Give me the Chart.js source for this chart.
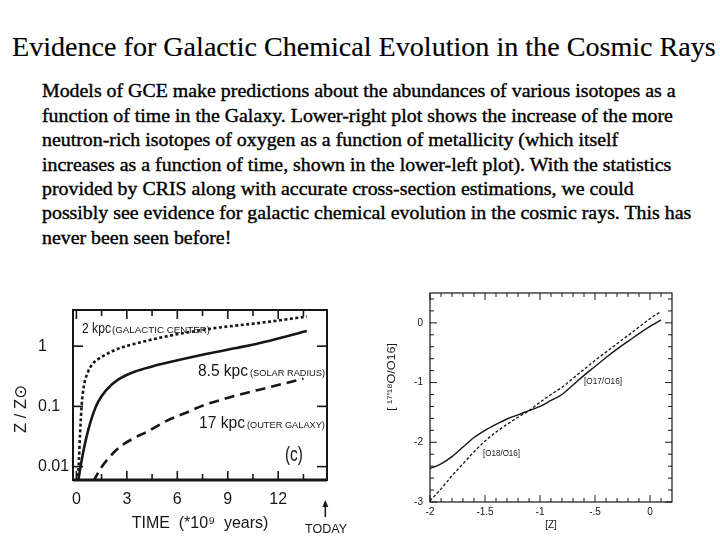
<!DOCTYPE html>
<html><head><meta charset="utf-8">
<script src="https://cdn.jsdelivr.net/npm/chart.js@4.4.1/dist/chart.umd.min.js"></script>
<style>
html,body{margin:0;padding:0;background:#fff;width:720px;height:540px;overflow:hidden;}
#title{position:absolute;left:12px;top:0;white-space:nowrap;font-family:"Liberation Serif","Times New Roman",serif;color:#000;-webkit-text-stroke:0.15px #000;}
#para{position:absolute;left:42px;top:0;font-family:"Liberation Serif","Times New Roman",serif;color:#000;white-space:pre;-webkit-text-stroke:0.4px #000;}
canvas{position:absolute;}
#c1{left:0;top:290px;}
#c2{left:385px;top:270px;}
</style></head><body>
<div id="title"></div>
<div id="para"></div>
<canvas id="c1" width="360" height="250"></canvas>
<canvas id="c2" width="335" height="270"></canvas>
<script>
// ---------- text ----------
const titleText = "Evidence for Galactic Chemical Evolution in the Cosmic Rays";
const paraLines = [
  "Models of GCE make predictions about the abundances of various isotopes as a",
  "function of time in the Galaxy. Lower-right plot shows the increase of the more",
  "neutron-rich isotopes of oxygen as a function of metallicity (which itself",
  "increases as a function of time, shown in the lower-left plot). With the statistics",
  "provided by CRIS along with accurate cross-section estimations, we could",
  "possibly see evidence for galactic chemical evolution in the cosmic rays. This has",
  "never been seen before!"
];

// ---------- left plot data: metallicity vs time ----------
const t2kpc  = [0.08, 0.15, 0.22, 0.32, 0.45, 0.65, 0.95, 1.5, 2.5, 3.5, 5.5, 8, 11, 13.7];
const z2kpc  = [0.0056, 0.0126, 0.035, 0.11, 0.22, 0.35, 0.50, 0.66, 0.91, 1.10, 1.48, 1.95, 2.45, 3.1];
const t85kpc = [0.1, 0.25, 0.45, 0.7, 1.0, 1.3, 1.8, 2.5, 3.5, 4.5, 5.5, 7.5, 9.5, 11.5, 13.7];
const z85kpc = [0.0056, 0.010, 0.020, 0.040, 0.076, 0.12, 0.19, 0.28, 0.38, 0.46, 0.54, 0.72, 0.93, 1.23, 1.78];
const t17kpc = [1.0, 1.4, 1.85, 2.6, 3.4, 4.2, 5.4, 6.4, 7.6, 9.5, 11.5, 13.5];
const z17kpc = [0.0056, 0.0089, 0.0132, 0.0214, 0.0295, 0.038, 0.058, 0.076, 0.105, 0.151, 0.209, 0.288];
const leftXTicks = [0, 3, 6, 9, 12];
const leftXTickLabels = ["0", "3", "6", "9", "12"];
const leftXMinorTicks = [1.5, 4.5, 7.5, 10.5, 13.5];
const leftYTicks = [0.01, 0.1, 1];
const leftYTickLabels = ["0.01", "0.1", "1"];

// ---------- right plot data: oxygen isotope ratios vs [Z] ----------
const zMet = [-2, -1.9, -1.8, -1.7, -1.6, -1.5, -1.4, -1.3, -1.2, -1.1, -1.0, -0.9, -0.8, -0.7, -0.6, -0.5, -0.4, -0.3, -0.2, -0.1, 0, 0.1];
const o17o16 = [-2.44, -2.36, -2.24, -2.08, -1.92, -1.80, -1.70, -1.61, -1.54, -1.47, -1.40, -1.30, -1.20, -1.04, -0.88, -0.73, -0.58, -0.44, -0.31, -0.18, -0.06, 0.05];
const o18o16 = [-2.98, -2.78, -2.56, -2.36, -2.16, -1.98, -1.83, -1.70, -1.58, -1.47, -1.33, -1.20, -1.08, -0.93, -0.78, -0.63, -0.49, -0.35, -0.21, -0.07, 0.07, 0.19];
const rightXTicks = [-2, -1.5, -1, -0.5, 0];
const rightXTickLabels = ["-2", "-1.5", "-1", "-.5", "0"];
const rightXMinorTicks = [-1.9, -1.8, -1.7, -1.6, -1.4, -1.3, -1.2, -1.1, -0.9, -0.8, -0.7, -0.6, -0.4, -0.3, -0.2, -0.1, 0.1];
const rightYTicks = [0, -1, -2, -3];
const rightYTickLabels = ["0", "-1", "-2", "-3"];
const rightYMinorTicks = [0.4, 0.2, -0.2, -0.4, -0.6, -0.8, -1.2, -1.4, -1.6, -1.8, -2.2, -2.4, -2.6, -2.8];

// ---------- page text layout ----------
(function () {
  const m = document.createElement('canvas').getContext('2d');
  m.font = '100px "Liberation Serif"';
  const ts = 100 * 704 / m.measureText(titleText).width;
  const t = document.getElementById('title');
  t.textContent = titleText;
  t.style.fontSize = ts + 'px';
  t.style.lineHeight = ts + 'px';
  t.style.top = (57 - 0.8375 * ts) + 'px';
  const ps = 100 * 634 / m.measureText(paraLines[0]).width;
  const p = document.getElementById('para');
  const lh = 24.4;
  p.textContent = paraLines.join('\n');
  p.style.fontSize = ps + 'px';
  p.style.lineHeight = lh + 'px';
  p.style.top = (97.3 - ((lh - 1.107 * ps) / 2 + 0.891 * ps)) + 'px';
})();

const pts = (xs, ys) => xs.map((x, i) => ({x: x, y: ys[i]}));
const INK = '#161616';
const SANS = '"Liberation Sans", Arial, "DejaVu Sans", sans-serif';

function drawFit(ctx, s, x, y, font, w, align, rot, base) {
  ctx.save();
  ctx.font = font;
  ctx.fillStyle = INK;
  const mw = ctx.measureText(s).width;
  const sx = w ? w / mw : 1;
  ctx.translate(x, y);
  if (rot) ctx.rotate(rot);
  ctx.scale(sx, 1);
  ctx.textAlign = align || 'left';
  ctx.textBaseline = base || 'alphabetic';
  ctx.fillText(s, 0, 0);
  ctx.restore();
}

const frame = {
  id: 'frame',
  afterDatasetsDraw(chart, args, o) {
    const {ctx, chartArea: a, scales: {x, y}} = chart;
    ctx.save();
    ctx.strokeStyle = INK;
    ctx.lineWidth = o.box;
    ctx.strokeRect(a.left, a.top, a.right - a.left, a.bottom - a.top);
    if (o.bottom) {
      ctx.lineWidth = o.bottom;
      ctx.beginPath(); ctx.moveTo(a.left, a.bottom); ctx.lineTo(a.right, a.bottom); ctx.stroke();
    }
    ctx.lineWidth = o.tick;
    const seg = (x1, y1, x2, y2) => { ctx.beginPath(); ctx.moveTo(x1, y1); ctx.lineTo(x2, y2); ctx.stroke(); };
    o.xTicks.forEach(g => g.values.forEach(v => {
      const px = x.getPixelForValue(v);
      seg(px, a.bottom, px, a.bottom - g.len);
      seg(px, a.top, px, a.top + g.len);
    }));
    o.yTicks.forEach(g => g.values.forEach(v => {
      const py = y.getPixelForValue(v);
      seg(a.left, py, a.left + g.len, py);
      seg(a.right, py, a.right - g.len, py);
    }));
    ctx.restore();
  },
  afterDraw(chart, args, o) {
    const {ctx, chartArea: a, scales: {x, y}} = chart;
    (o.notes || []).forEach(n => {
      const px = n.xOff !== undefined ? a.left + n.xOff : x.getPixelForValue(n.x);
      const py = n.yOff !== undefined ? a.bottom + n.yOff : y.getPixelForValue(n.y);
      drawFit(ctx, n.text, px, py, n.font, n.w, n.align, n.rot, n.base);
    });
    (o.arrows || []).forEach(r => {
      const px = x.getPixelForValue(r.x);
      const y1 = a.bottom + r.from, y2 = a.bottom + r.to;
      ctx.save();
      ctx.strokeStyle = INK; ctx.fillStyle = INK; ctx.lineWidth = 1.5;
      ctx.beginPath(); ctx.moveTo(px, y1); ctx.lineTo(px, y2 + 4); ctx.stroke();
      ctx.beginPath(); ctx.moveTo(px, y2); ctx.lineTo(px - 3, y2 + 7); ctx.lineTo(px + 3, y2 + 7); ctx.closePath(); ctx.fill();
      ctx.restore();
    });
  }
};

Chart.defaults.font.family = SANS;
Chart.defaults.color = INK;

// ---------- left chart ----------
new Chart(document.getElementById('c1'), {
  type: 'line',
  data: {
    datasets: [
      {label: '2 kpc', data: pts(t2kpc, z2kpc), borderColor: INK, borderWidth: 2.6, borderDash: [3, 2.5], pointRadius: 0, cubicInterpolationMode: 'monotone'},
      {label: '8.5 kpc', data: pts(t85kpc, z85kpc), borderColor: INK, borderWidth: 2.6, pointRadius: 0, cubicInterpolationMode: 'monotone'},
      {label: '17 kpc', data: pts(t17kpc, z17kpc), borderColor: INK, borderWidth: 2.6, borderDash: [10, 6], pointRadius: 0, cubicInterpolationMode: 'monotone'}
    ]
  },
  options: {
    responsive: false, animation: false, devicePixelRatio: 1,
    layout: {padding: {left: 38, top: 20, right: 33, bottom: 0}},
    plugins: {
      legend: {display: false}, tooltip: {enabled: false},
      frame: {
        box: 2, bottom: 3, tick: 1.6,
        xTicks: [{values: leftXTicks, len: 9}, {values: leftXMinorTicks, len: 6}],
        yTicks: [{values: leftYTicks, len: 10}],
        notes: [
          {text: '2 kpc', x: 0.335, y: 1.65, font: '15px ' + SANS, w: 29},
          {text: '(GALACTIC CENTER)', x: 2.12, y: 1.65, font: '9.5px ' + SANS, w: 98},
          {text: '8.5 kpc', x: 7.23, y: 0.32, font: '16px ' + SANS, w: 50},
          {text: '(SOLAR RADIUS)', x: 10.32, y: 0.32, font: '9.5px ' + SANS, w: 75},
          {text: '17 kpc', x: 7.29, y: 0.0439, font: '16px ' + SANS, w: 46},
          {text: '(OUTER GALAXY)', x: 10.14, y: 0.0439, font: '9.5px ' + SANS, w: 78},
          {text: '(c)', x: 12.4, y: 0.01245, font: '20px ' + SANS, w: 18},
          {text: 'TODAY', x: 14.84, yOff: 53, font: '12px ' + SANS, w: 42, align: 'center'},
          {text: 'Z / Z\u2299', xOff: -51.5, y: 0.0906, font: '17px ' + SANS, w: 48, align: 'center', rot: -Math.PI / 2, base: 'middle'}
        ],
        arrows: [{x: 14.8, from: 37, to: 20}]
      }
    },
    scales: {
      x: {
        type: 'linear', min: -0.2, max: 14.9,
        afterBuildTicks: s => { s.ticks = leftXTicks.map(v => ({value: v})); },
        afterFit: s => { s.height = 60; },
        grid: {display: false, drawTicks: false}, border: {display: false},
        ticks: {autoSkip: false, maxRotation: 0, padding: 10, font: {size: 16}, callback: (v, i) => leftXTickLabels[i]},
        title: {display: true, text: 'TIME  (*10\u2079  years)', font: {size: 16}, padding: {top: 0, bottom: 7}}
      },
      y: {
        type: 'logarithmic', min: 0.006, max: 3.98,
        afterBuildTicks: s => { s.ticks = leftYTicks.map(v => ({value: v})); },
        afterFit: s => { s.width = 35; },
        grid: {display: false, drawTicks: false}, border: {display: false},
        ticks: {crossAlign: 'far', padding: 6, font: {size: 16}, callback: (v, i) => leftYTickLabels[i]}
      }
    }
  },
  plugins: [frame]
});

// ---------- right chart ----------
new Chart(document.getElementById('c2'), {
  type: 'line',
  data: {
    datasets: [
      {label: '[O17/O16]', data: pts(zMet, o17o16), borderColor: INK, borderWidth: 1.4, pointRadius: 0, cubicInterpolationMode: 'monotone'},
      {label: '[O18/O16]', data: pts(zMet, o18o16), borderColor: INK, borderWidth: 1.3, borderDash: [3, 2], pointRadius: 0, cubicInterpolationMode: 'monotone'}
    ]
  },
  options: {
    responsive: false, animation: false, devicePixelRatio: 1,
    layout: {padding: {left: 0, top: 23, right: 48, bottom: 0}},
    plugins: {
      legend: {display: false}, tooltip: {enabled: false},
      frame: {
        box: 1.2, tick: 1,
        xTicks: [{values: rightXTicks, len: 7}, {values: rightXMinorTicks, len: 4}],
        yTicks: [{values: rightYTicks, len: 7}, {values: rightYMinorTicks, len: 4}],
        notes: [
          {text: '[O17/O16]', x: -0.6, y: -1.024, font: '9px ' + SANS, w: 38},
          {text: '[O18/O16]', x: -1.518, y: -2.23, font: '9px ' + SANS, w: 37},
          {text: '[ \u00B9\u2077\'\u00B9\u2078O/O16]', xOff: -38, y: -0.907, font: '11px ' + SANS, w: 68, align: 'center', rot: -Math.PI / 2, base: 'middle'}
        ]
      }
    },
    scales: {
      x: {
        type: 'linear', min: -2, max: 0.2,
        afterBuildTicks: s => { s.ticks = rightXTicks.map(v => ({value: v})); },
        afterFit: s => { s.height = 38; },
        grid: {display: false, drawTicks: false}, border: {display: false},
        ticks: {autoSkip: false, maxRotation: 0, padding: 4, font: {size: 10}, callback: (v, i) => rightXTickLabels[i]},
        title: {display: true, text: '[Z]', font: {size: 10}, padding: {top: 0, bottom: 9}}
      },
      y: {
        type: 'linear', min: -3, max: 0.5,
        afterBuildTicks: s => { s.ticks = rightYTicks.map(v => ({value: v})); },
        afterFit: s => { s.width = 45; },
        grid: {display: false, drawTicks: false}, border: {display: false},
        ticks: {padding: 7, font: {size: 10}, callback: (v, i) => rightYTickLabels[i]}
      }
    }
  },
  plugins: [frame]
});
</script>
</body></html>
